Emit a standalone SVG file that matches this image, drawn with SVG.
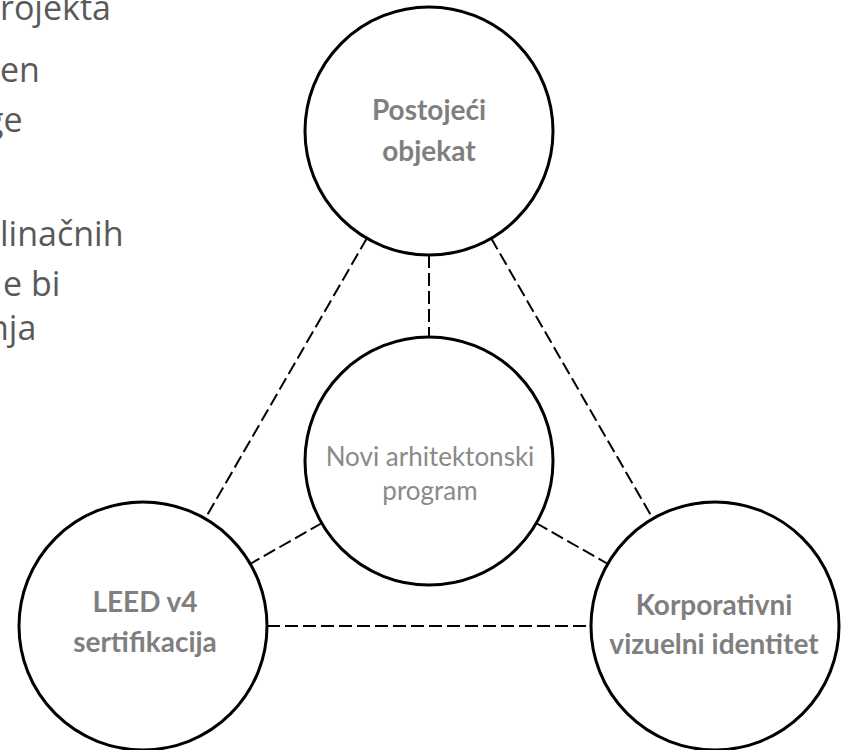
<svg xmlns="http://www.w3.org/2000/svg" width="846" height="750" viewBox="0 0 846 750">
<style>
.bg{fill:#ffffff}
.para{font-family:"Open Sans","Noto Sans",sans-serif;font-size:34px;fill:#595959}
.node{fill:#ffffff;stroke:#000000;stroke-width:3}
.lbl{font-family:Lato,"Open Sans",sans-serif;font-size:28px;font-weight:bold;fill:#7f7f7f;text-anchor:middle}
.lbl2{font-family:Lato,"Open Sans",sans-serif;font-size:26px;fill:#8a8a8a;text-anchor:middle}
.conn{stroke:#000000;stroke-width:2;stroke-dasharray:13 5;fill:none}
</style>
<rect class="bg" x="0" y="0" width="846" height="750"/>
<g id="paragraph">
<text class="para" x="0" y="20">rojekta</text>
<text class="para" x="0" y="82">en</text>
<text class="para" x="-15" y="132">ge</text>
<text class="para" x="0" y="246">linačnih</text>
<text class="para" x="3" y="296">e bi</text>
<text class="para" x="-12" y="340">nja</text>
</g>
<g id="connectors">
<line class="conn" x1="429" y1="255" x2="429" y2="337"/>
<line class="conn" x1="367" y1="238" x2="205" y2="519"/>
<line class="conn" x1="491" y1="238" x2="653" y2="519"/>
<line class="conn" x1="267" y1="626" x2="591" y2="626"/>
<line class="conn" x1="322" y1="523" x2="250" y2="564"/>
<line class="conn" x1="536" y1="523" x2="608" y2="564"/>
</g>
<g id="node-postojeci">
<circle class="node" cx="429" cy="131" r="124"/>
<text class="lbl" x="429" y="120">Postojeći</text>
<text class="lbl" x="429" y="161">objekat</text>
</g>
<g id="node-novi">
<circle class="node" cx="429" cy="461" r="124"/>
<text class="lbl2" x="430" y="466">Novi arhitektonski</text>
<text class="lbl2" x="430" y="500">program</text>
</g>
<g id="node-leed">
<circle class="node" cx="143" cy="626" r="124"/>
<text class="lbl" x="145" y="612">LEED v4</text>
<text class="lbl" x="145" y="652">sertifikacija</text>
</g>
<g id="node-korporativni">
<circle class="node" cx="715" cy="626" r="124"/>
<text class="lbl" x="714" y="615">Korporativni</text>
<text class="lbl" x="714" y="654">vizuelni identitet</text>
</g>
</svg>
